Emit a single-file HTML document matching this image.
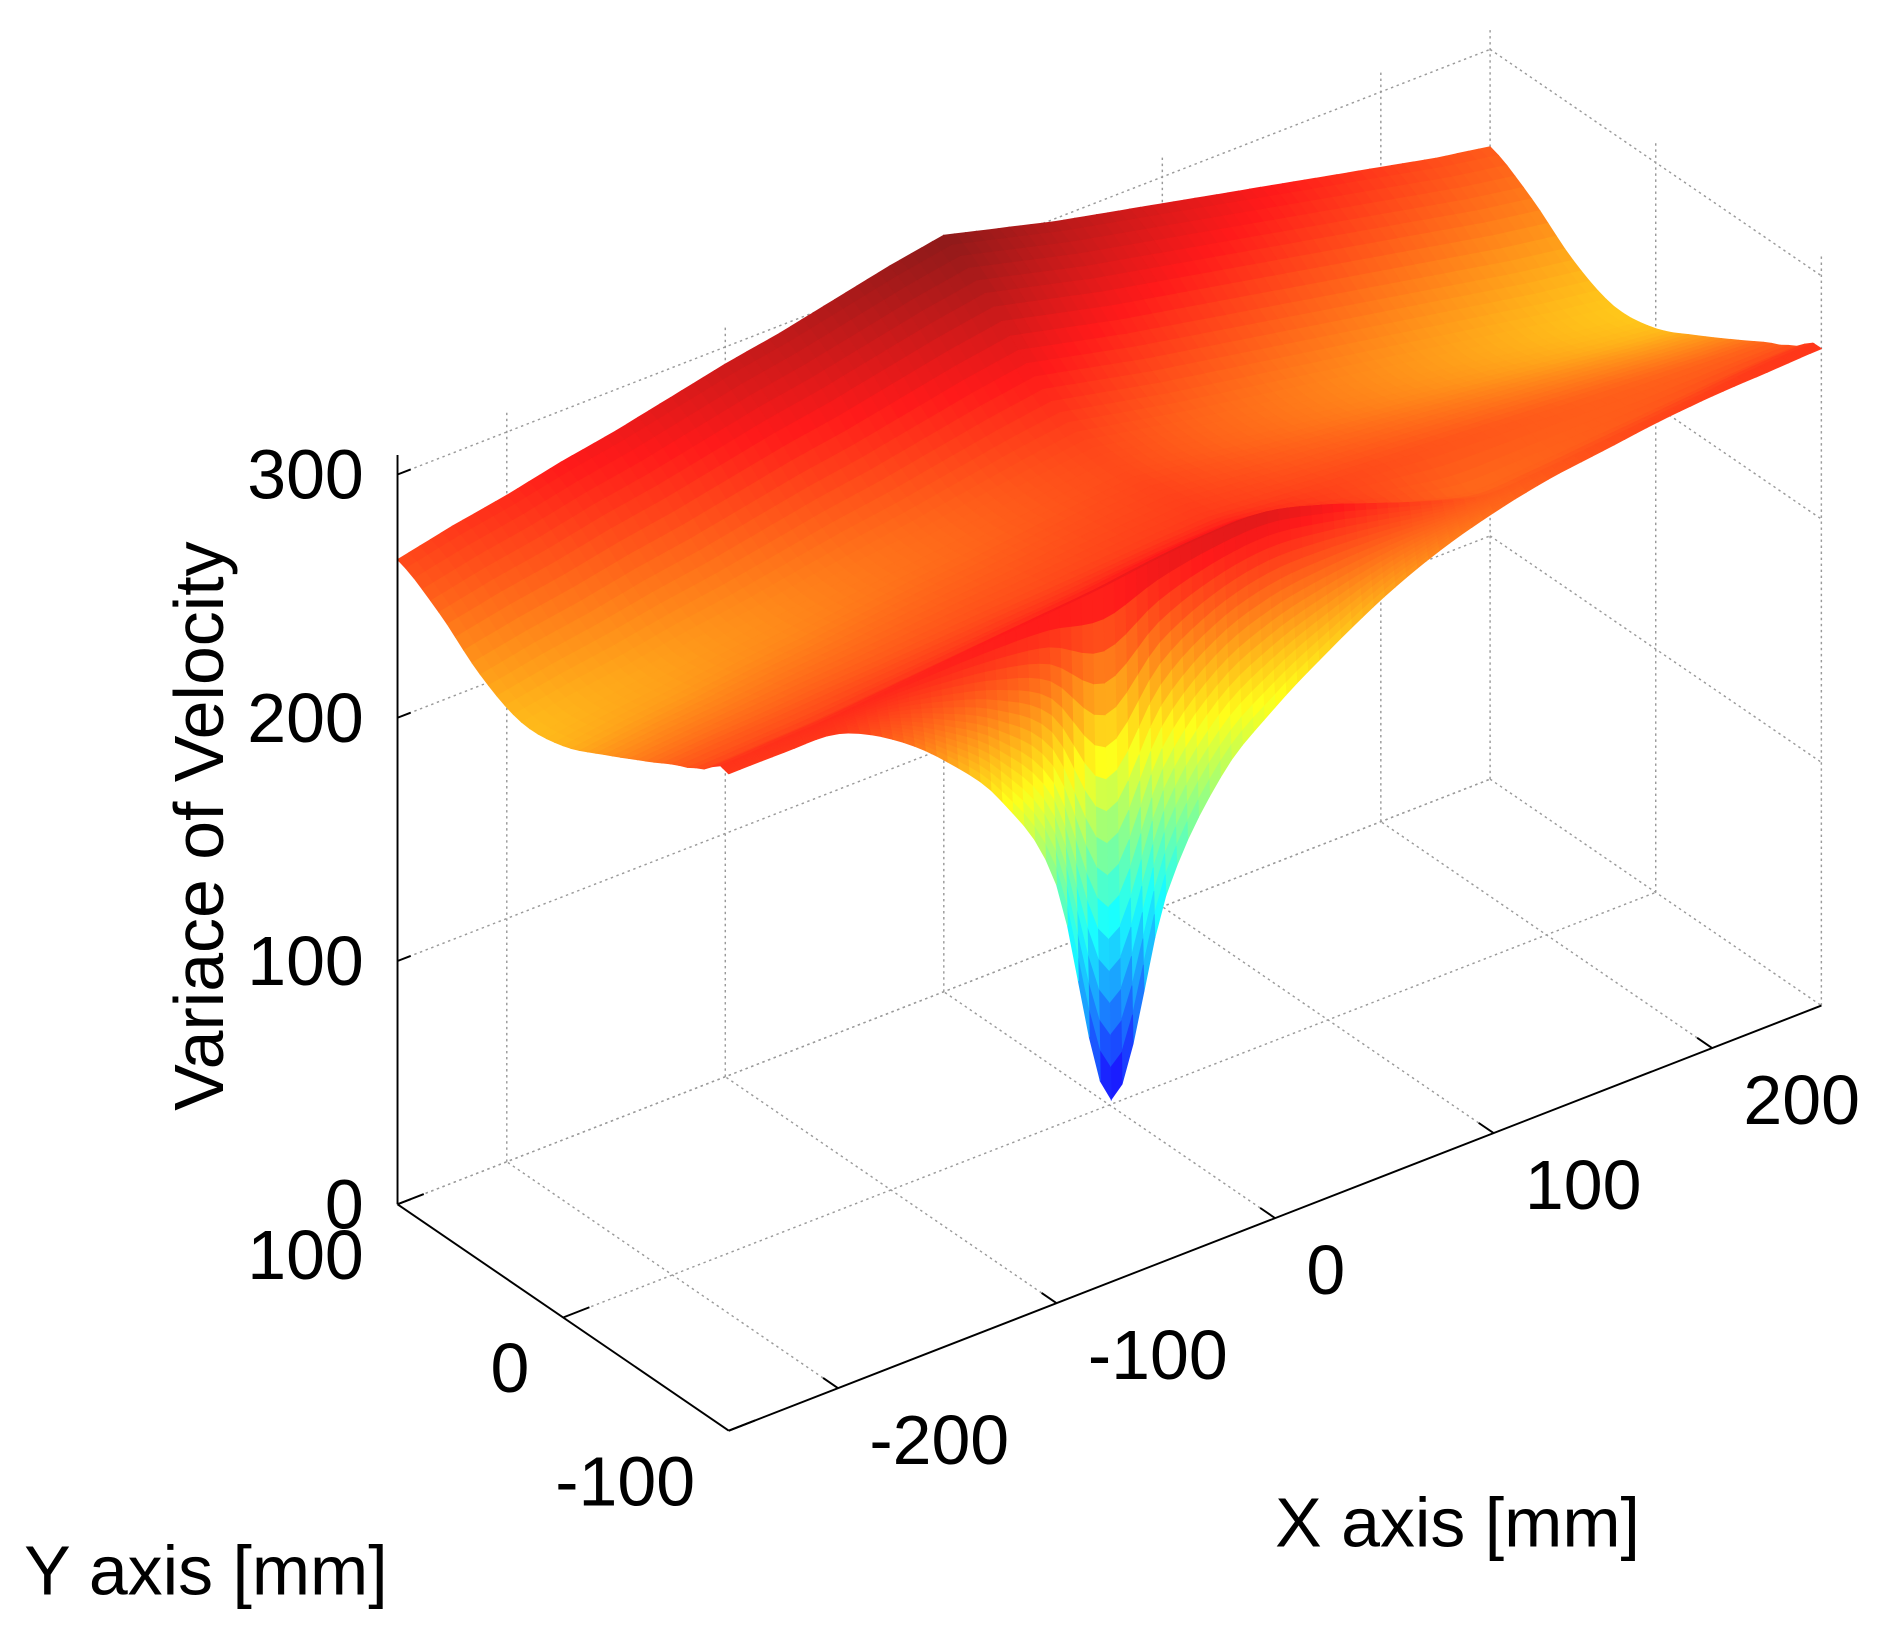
<!DOCTYPE html>
<html><head><meta charset="utf-8"><title>Variance of Velocity surface</title>
<style>
html,body{margin:0;padding:0;background:#fff;}
svg{display:block;}
text{font-family:"Liberation Sans",Arial,sans-serif;fill:#000;}
</style></head>
<body>
<svg id="chart" width="1884" height="1633" viewBox="0 0 1564 1356" preserveAspectRatio="none" xmlns="http://www.w3.org/2000/svg">
<g id="grid"></g>
<g id="surface"></g>
<g id="axes"></g>
<g id="labels">
<text x="0" y="0" font-size="58" text-anchor="middle" transform="translate(185,686) rotate(-90)">Variace of Velocity</text>
<text x="1210" y="1284" font-size="58" text-anchor="middle">X axis [mm]</text>
<text x="20" y="1324" font-size="58">Y axis [mm]</text>
</g>
</svg>
<script>
// ---- data ----
const xTicks = [-200, -100, 0, 100, 200];
const yTicks = [-100, 0, 100];
const zTicks = [0, 100, 200, 300];
const xNodes = [-250,-225,-200,-175,-150,-125,-100,-75,-50,-25,0,25,50,75,100,125,150,175,200,225,250];
const xProfile = [0,5,9,14,18,23,28,32,37,42,46,40,34,29,24,19,14,9,4,-1,-5];
const yNodes = [-95,-85,-75,-50,-25,0,25,50,75,100];
const yProfile = [6,0,-4,-13,-22,-30,-32,-24,-10,0];
const yWeight = [0.15,0.15,0.2,0.35,0.5,0.65,0.78,0.88,0.95,1];
const baseLevel = 265;
const rimProfile = [271,272,273,275,277,279,281,283,286,288,288,282,274,266,260,261,263,265,267,269,270];
const frontProfile = [270,270,269,258,240,215,172,75,150,190,210,225,238,248,255,260,263,266,268,269,270];
const zLimits = [50, 311];

// ---- projection ----
function P(x,y,z){ return [605+1.814*(x+250)-1.375*(y+100), 1188-0.706*(x+250)-0.94*(y+100)-2.02*z]; }
const ZMAX = 308;
const NS='http://www.w3.org/2000/svg';
function interp(nodes, vals, v){
  if(v<=nodes[0]) return vals[0];
  const n=nodes.length;
  if(v>=nodes[n-1]) return vals[n-1];
  let i=0; while(v>nodes[i+1]) i++;
  const t=(v-nodes[i])/(nodes[i+1]-nodes[i]);
  const p0=vals[Math.max(i-1,0)],p1=vals[i],p2=vals[i+1],p3=vals[Math.min(i+2,n-1)];
  return 0.5*((2*p1)+(-p0+p2)*t+(2*p0-5*p1+4*p2-p3)*t*t+(-p0+3*p1-3*p2+p3)*t*t*t);
}
function lin(nodes, vals, v){
  if(v<=nodes[0]) return vals[0];
  const n=nodes.length;
  if(v>=nodes[n-1]) return vals[n-1];
  let i=0; while(v>nodes[i+1]) i++;
  const t=(v-nodes[i])/(nodes[i+1]-nodes[i]);
  return vals[i]+(vals[i+1]-vals[i])*t;
}
function zAt(x,y){
  if(y<=-100) return interp(xNodes, frontProfile, x);
  const base = baseLevel + lin(xNodes, xProfile, x)*lin(yNodes, yWeight, y) + interp(yNodes, yProfile, y);
  const rimBase = baseLevel + lin(xNodes, xProfile, x)*yWeight[0] + yProfile[0];
  let w = Math.max(0, Math.min(1, (-55 - y)/40));
  w = w*w*(3-2*w);
  return base + w*(interp(xNodes, rimProfile, x) - rimBase);
}
function jet(v){
  let t=(v-zLimits[0])/(zLimits[1]-zLimits[0]); t=Math.max(0,Math.min(1,t));
  const c=a=>Math.round(255*(0.1+0.9*Math.max(0,Math.min(1,a))));
  return 'rgb('+c(1.5-Math.abs(4*t-3))+','+c(1.5-Math.abs(4*t-2))+','+c(1.5-Math.abs(4*t-1))+')';
}
function line(g,a,b,dashed,w,name){
  const l=document.createElementNS(NS,'line');
  l.setAttribute('x1',a[0].toFixed(1));l.setAttribute('y1',a[1].toFixed(1));
  l.setAttribute('x2',b[0].toFixed(1));l.setAttribute('y2',b[1].toFixed(1));
  l.setAttribute('stroke',dashed?'#9a9a9a':'#000');
  l.setAttribute('stroke-width',w);
  if(dashed) l.setAttribute('stroke-dasharray','2 3');
  
  
  g.appendChild(l);
}
// ---- grid ----
const grid=document.getElementById('grid');
xTicks.forEach(x=>{
  line(grid,P(x,-100,0),P(x,100,0),true,1.2,'x-gridline');
  line(grid,P(x,100,0),P(x,100,ZMAX),true,1.2,'x-gridline');
});
yTicks.forEach(y=>{
  line(grid,P(-250,y,0),P(250,y,0),true,1.2,'y-gridline');
  line(grid,P(250,y,0),P(250,y,ZMAX),true,1.2,'y-gridline');
});
zTicks.forEach(z=>{
  line(grid,P(-250,100,z),P(250,100,z),true,1.2,'z-gridline');
  line(grid,P(250,100,z),P(250,-100,z),true,1.2,'z-gridline');
});
// ---- surface ----
const surf=document.getElementById('surface');
const xs=[]; for(let x=-250;x<=250;x+=5) xs.push(x);
const ys=[-100]; for(let y=-95;y<=100;y+=5) ys.push(y);
const quads=[];
for(let j=0;j<ys.length-1;j++){
  for(let i=0;i<xs.length-1;i++){
    const x0=xs[i],x1=xs[i+1],y0=ys[j],y1=ys[j+1];
    if(j===0){
      const bands=16;
      for(let b=0;b<bands;b++){
        const t0=b/bands,t1=(b+1)/bands;
        const ya=y0+(y1-y0)*t0, yb=y0+(y1-y0)*t1;
        const za0=zAt(x0,y0)+(zAt(x0,y1)-zAt(x0,y0))*t0, za1=zAt(x1,y0)+(zAt(x1,y1)-zAt(x1,y0))*t0;
        const zb0=zAt(x0,y0)+(zAt(x0,y1)-zAt(x0,y0))*t1, zb1=zAt(x1,y0)+(zAt(x1,y1)-zAt(x1,y0))*t1;
        quads.push({d:0.706*(x0+x1)/2+0.94*ya-0.0001*b,pts:[[x0,ya,za0],[x1,ya,za1],[x1,yb,zb1],[x0,yb,zb0]]});
      }
    } else {
      quads.push({d:0.706*(x0+x1)/2+0.94*(y0+y1)/2,pts:[[x0,y0,zAt(x0,y0)],[x1,y0,zAt(x1,y0)],[x1,y1,zAt(x1,y1)],[x0,y1,zAt(x0,y1)]]});
    }
  }
}
quads.sort((a,b)=>b.d-a.d);
quads.forEach(q=>{
  const zm=(q.pts[0][2]+q.pts[1][2]+q.pts[2][2]+q.pts[3][2])/4;
  const col=jet(zm);
  const p=document.createElementNS(NS,'polygon');
  p.setAttribute('points',q.pts.map(v=>P(v[0],v[1],v[2]).map(n=>n.toFixed(1)).join(',')).join(' '));
  p.setAttribute('fill',col);
  p.setAttribute('stroke',col);
  p.setAttribute('stroke-width','0.7');
  
  
  surf.appendChild(p);
});
// ---- axes ----
const axes=document.getElementById('axes');
line(axes,P(-250,100,0),P(-250,100,ZMAX),false,1.6,'z-axis-line');
line(axes,P(-250,100,0),P(-250,-100,0),false,1.6,'y-axis-line');
line(axes,P(-250,-100,0),P(250,-100,0),false,1.6,'x-axis-line');
function label(txt,x,y,anchor,name){
  const t=document.createElementNS(NS,'text');
  t.setAttribute('x',x.toFixed(1));t.setAttribute('y',y.toFixed(1));
  t.setAttribute('font-size','58');t.setAttribute('text-anchor',anchor);
  t.textContent=txt;
  
  
  axes.appendChild(t);
}
zTicks.forEach(z=>{
  line(axes,P(-250,100,z),P(-244,100,z),false,1.6,'z-tick');
  const p=P(-250,100,z);
  label(String(z),p[0]-28,p[1]+20,'end','z-tick-label');
});
yTicks.forEach(y=>{
  line(axes,P(-250,y,0),P(-238,y,0),false,1.6,'y-tick');
  const p=P(-250,y,0);
  label(String(y),p[0]-28,p[1]+62,'end','y-tick-label');
});
xTicks.forEach(x=>{
  line(axes,P(x,-100,0),P(x,-91,0),false,1.6,'x-tick');
  const p=P(x,-100,0);
  label(String(x),p[0]+26,p[1]+63,'start','x-tick-label');
});
</script>
</body></html>
